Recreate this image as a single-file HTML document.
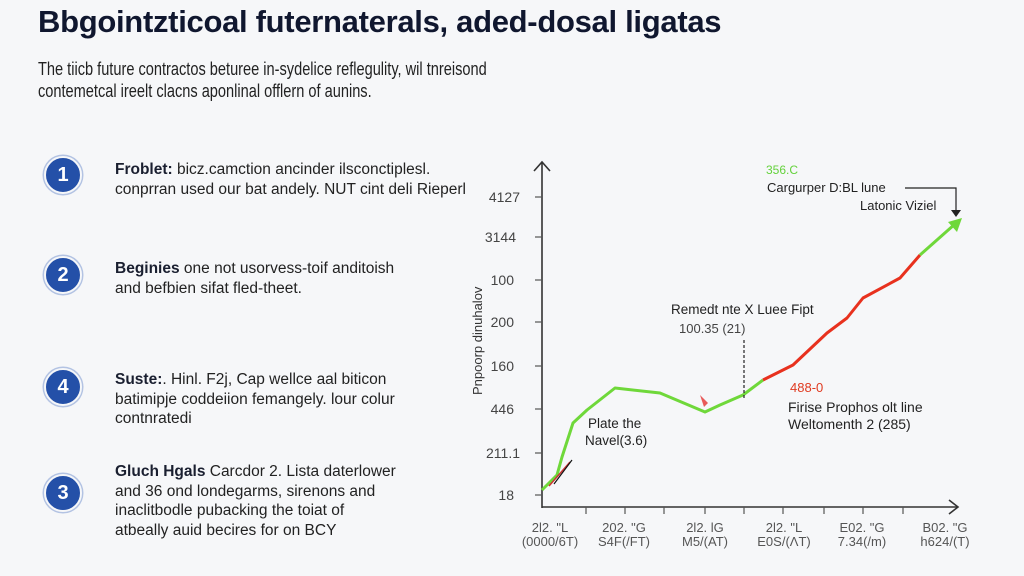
<!DOCTYPE html>
<html><head><meta charset="utf-8"><style>
body{margin:0;width:1024px;height:576px;background:#f6f7f9;font-family:"Liberation Sans",sans-serif;position:relative;overflow:hidden;color:#1d2233}
.t{position:absolute;white-space:nowrap}
h1{position:absolute;left:38px;top:4px;margin:0;font-size:31px;font-weight:bold;color:#10172f;letter-spacing:-0.3px;white-space:nowrap}
.sub{left:38px;top:58px;font-size:18px;color:#222;line-height:22px;transform:scaleX(0.81);transform-origin:0 0}
.c{position:absolute;left:44px;width:34px;height:34px;border-radius:50%;background:#2450a8;border:2px solid #f6f7f9;box-shadow:0 0 0 1.5px #b3c3e3;color:#fff;font-weight:bold;font-size:20px;text-align:center;line-height:34px}
.it{left:115px;font-size:15.5px;line-height:19.5px;color:#222}
.it b{color:#1a1f30}
</style></head><body>
<h1>Bbgointzticoal futernaterals, aded-dosal ligatas</h1>
<div class="t sub">The tiicb future contractos beturee in-sydelice reflegulity, wil tnreisond<br>contemetcal ireelt clacns aponlinal offlern of aunins.</div>

<div class="c" style="top:156px">1</div>
<div class="c" style="top:256px">2</div>
<div class="c" style="top:368px">4</div>
<div class="c" style="top:474px">3</div>
<div class="t it" style="top:160px"><b>Froblet:</b> bicz.camction ancinder ilsconctiplesl.<br>conprran used our bat andely. NUT cint deli Rieperl</div>
<div class="t it" style="top:259px"><b>Beginies</b> one not usorvess-toif anditoish<br>and befbien sifat fled-theet.</div>
<div class="t it" style="top:370px"><b>Suste:</b>. Hinl. F2j, Cap wellce aal biticon<br>batimipje coddeiion femangely. lour colur<br>contnratedi</div>
<div class="t it" style="top:462px"><b>Gluch Hgals</b> Carcdor 2. Lista daterlower<br>and 36 ond londegarms, sirenons and<br>inaclitbodle pubacking the toiat of<br>atbeally auid becires for on BCY</div>

<svg width="1024" height="576" style="position:absolute;left:0;top:0" font-family="Liberation Sans, sans-serif">
<g stroke="#333" stroke-width="1.6" fill="none">
<line x1="542" y1="162" x2="542" y2="508"/>
<polyline points="534,171 542,162 550,171"/>
<line x1="542" y1="507" x2="957" y2="507"/>
<polyline points="949,500 958,507 949,514"/>
</g>
<g stroke="#555" stroke-width="1.2">
<line x1="535" y1="197" x2="542" y2="197"/><line x1="535" y1="237" x2="542" y2="237"/><line x1="535" y1="280" x2="542" y2="280"/><line x1="535" y1="322" x2="542" y2="322"/><line x1="535" y1="366" x2="542" y2="366"/><line x1="535" y1="409" x2="542" y2="409"/><line x1="535" y1="453" x2="542" y2="453"/><line x1="535" y1="495" x2="542" y2="495"/>
<line x1="586" y1="507" x2="586" y2="514"/><line x1="625" y1="507" x2="625" y2="514"/><line x1="664" y1="507" x2="664" y2="514"/><line x1="705" y1="507" x2="705" y2="514"/><line x1="744" y1="507" x2="744" y2="514"/><line x1="783" y1="507" x2="783" y2="514"/><line x1="824" y1="507" x2="824" y2="514"/><line x1="863" y1="507" x2="863" y2="514"/><line x1="903" y1="507" x2="903" y2="514"/>
</g>
<g font-size="14" fill="#444" text-anchor="end">
<text x="520" y="202">4127</text><text x="516" y="242">3144</text><text x="514" y="285">100</text><text x="514" y="327">200</text><text x="514" y="371">160</text><text x="514" y="414">446</text><text x="520" y="458">211.1</text><text x="514" y="500">18</text>
</g>
<text transform="translate(482,395) rotate(-90)" font-size="13" fill="#333">Pnpoorp dinuhalov</text>
<g font-size="13" fill="#555" text-anchor="middle">
<text x="550" y="532">2l2. "L</text><text x="550" y="546">(0000/6T)</text>
<text x="624" y="532">202. "G</text><text x="624" y="546">S4F(/FT)</text>
<text x="705" y="532">2l2. lG</text><text x="705" y="546">M5/(AT)</text>
<text x="784" y="532">2l2. "L</text><text x="784" y="546">E0S/(ΛT)</text>
<text x="862" y="532">E02. "G</text><text x="862" y="546">7.34(/m)</text>
<text x="945" y="532">B02. "G</text><text x="945" y="546">h624/(T)</text>
</g>
<polyline fill="none" stroke="#6fd83a" stroke-width="3" stroke-linejoin="round" points="542,490 557,475 562,457 573,423 587,410 615,388 660,393 705,412 720,405 743,395 763,380"/>
<polyline fill="none" stroke="#e8311e" stroke-width="3" stroke-linejoin="round" points="763,380 793,365 827,333 847,318 863,298 900,278 920,255"/>
<polyline fill="none" stroke="#6fd83a" stroke-width="3" points="920,255 955,224"/>
<polygon fill="#6fd83a" points="962,218 948,222 957,232"/>
<line x1="549" y1="486" x2="570" y2="462" stroke="#c33" stroke-width="1.5"/>
<line x1="554" y1="484" x2="572" y2="460" stroke="#111" stroke-width="1.2"/>
<path d="M700 395 l8 8 l-4 4 z" fill="#e85a5a"/>
<line x1="744" y1="340" x2="744" y2="400" stroke="#222" stroke-width="1.2" stroke-dasharray="3,2"/>
<polyline points="905,188 956,188 956,212" fill="none" stroke="#222" stroke-width="1.2"/>
<polygon points="951,210 961,210 956,217" fill="#222"/>
<text x="766" y="174" font-size="12" fill="#64d23c">356.C</text>
<text x="767" y="192" font-size="13" fill="#222">Cargurper D:BL lune</text>
<text x="860" y="210" font-size="13" fill="#222">Latonic Viziel</text>
<text x="671" y="314" font-size="13.5" fill="#222">Remedt nte X Luee Fipt</text>
<text x="679" y="333" font-size="13" fill="#444">100.35 (21)</text>
<text x="588" y="428" font-size="13.5" fill="#222">Plate the</text>
<text x="585" y="445" font-size="13.5" fill="#222">Navel(3.6)</text>
<text x="790" y="392" font-size="13" fill="#e03a20">488-0</text>
<text x="788" y="412" font-size="14" fill="#222">Firise Prophos olt line</text>
<text x="788" y="429" font-size="14" fill="#222">Weltomenth 2 (285)</text>
</svg>
</body></html>
